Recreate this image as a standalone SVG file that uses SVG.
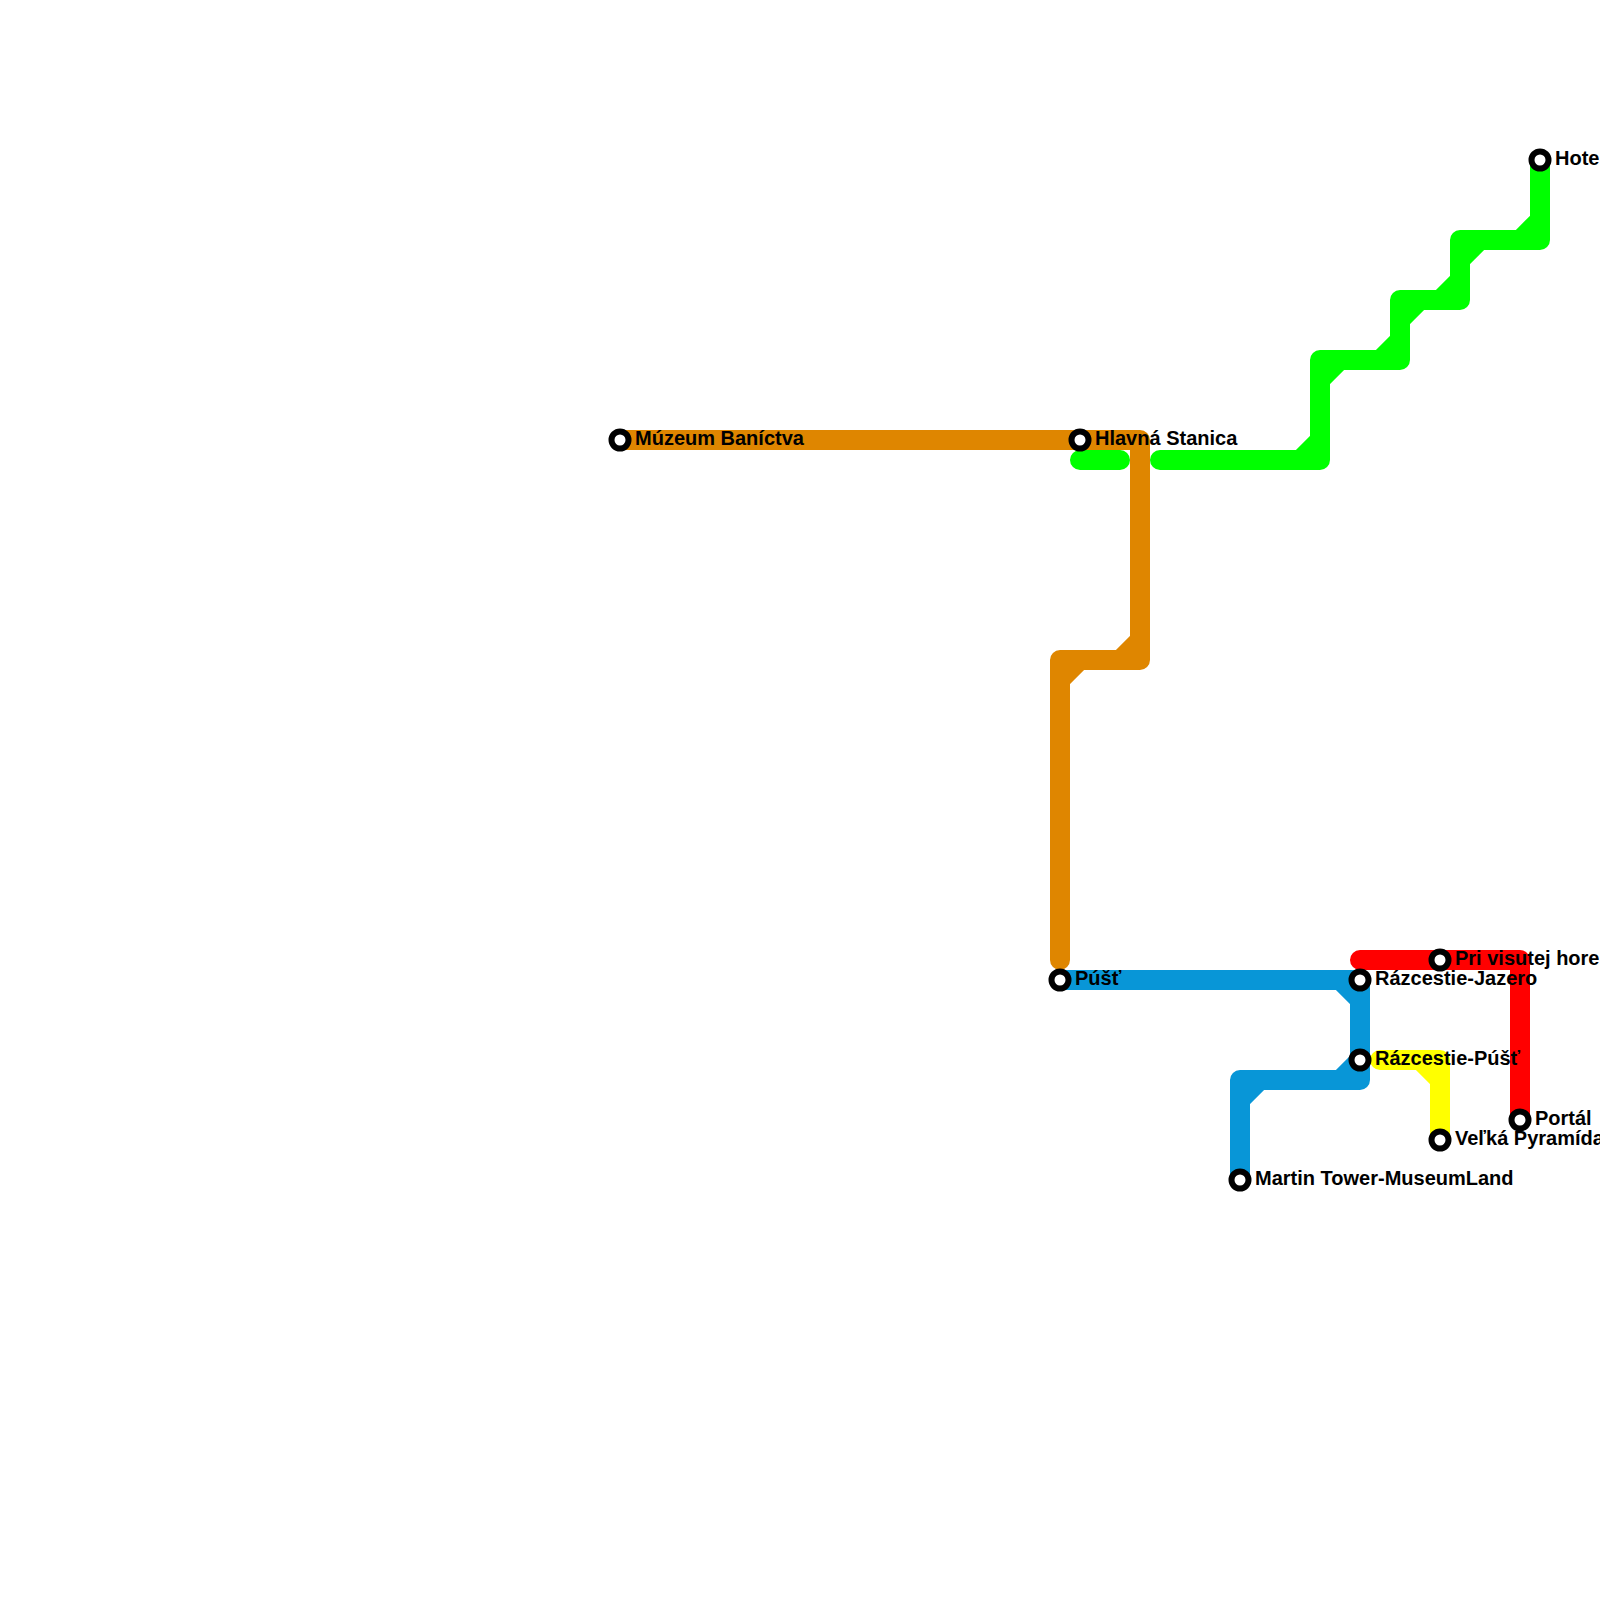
<svg xmlns="http://www.w3.org/2000/svg" width="1600" height="1600" viewBox="0 0 1600 1600">
<style>
.l{fill:none;stroke-width:20;stroke-linejoin:round;stroke-linecap:round}
.s{fill:#fff;stroke:#000;stroke-width:6}
text{font-family:"Liberation Sans",Arial,sans-serif;font-weight:bold;font-size:20px;fill:#000}
</style>
<rect width="1600" height="1600" fill="#fff"/>
<g id="connectors">
<path class="l" stroke="#00ff00" d="M1080 460H1120M1160 460H1320V360H1400V300H1460V240H1540V160M1300 460L1320 440M1320 380L1340 360M1380 360L1400 340M1400 320L1420 300M1440 300L1460 280M1460 260L1480 240M1520 240L1540 220"/>
<path class="l" stroke="#df8600" d="M620 440H1140V660H1060V960M1120 660L1140 640M1060 680L1080 660"/>
<path class="l" stroke="#ffff00" d="M1380 1060H1440V1140M1420 1060L1440 1080"/>
<path class="l" stroke="#ff0000" d="M1360 960H1520V1120"/>
<path class="l" stroke="#0896d7" d="M1060 980H1360V1080H1240V1180M1340 980L1360 1000M1340 1080L1360 1060M1240 1100L1260 1080"/>
</g>
<g id="muzeum"><circle class="s" cx="620" cy="440" r="8.5"/><text x="635" y="445">Múzeum Baníctva</text></g>
<g id="hlavna"><circle class="s" cx="1080" cy="440" r="8.5"/><text x="1095" y="445">Hlavná Stanica</text></g>
<g id="hotel"><circle class="s" cx="1540" cy="160" r="8.5"/><text x="1555" y="165">Hotel</text></g>
<g id="pust"><circle class="s" cx="1060" cy="980" r="8.5"/><text x="1075" y="985">Púšť</text></g>
<g id="pri"><circle class="s" cx="1440" cy="960" r="8.5"/><text x="1455" y="965">Pri visutej hore</text></g>
<g id="jazero"><circle class="s" cx="1360" cy="980" r="8.5"/><text x="1375" y="985">Rázcestie-Jazero</text></g>
<g id="rpust"><circle class="s" cx="1360" cy="1060" r="8.5"/><text x="1375" y="1065">Rázcestie-Púšť</text></g>
<g id="portal"><circle class="s" cx="1520" cy="1120" r="8.5"/><text x="1535" y="1125">Portál</text></g>
<g id="pyramida"><circle class="s" cx="1440" cy="1140" r="8.5"/><text x="1455" y="1145">Veľká Pyramída</text></g>
<g id="martin"><circle class="s" cx="1240" cy="1180" r="8.5"/><text x="1255" y="1185">Martin Tower-MuseumLand</text></g>
</svg>
